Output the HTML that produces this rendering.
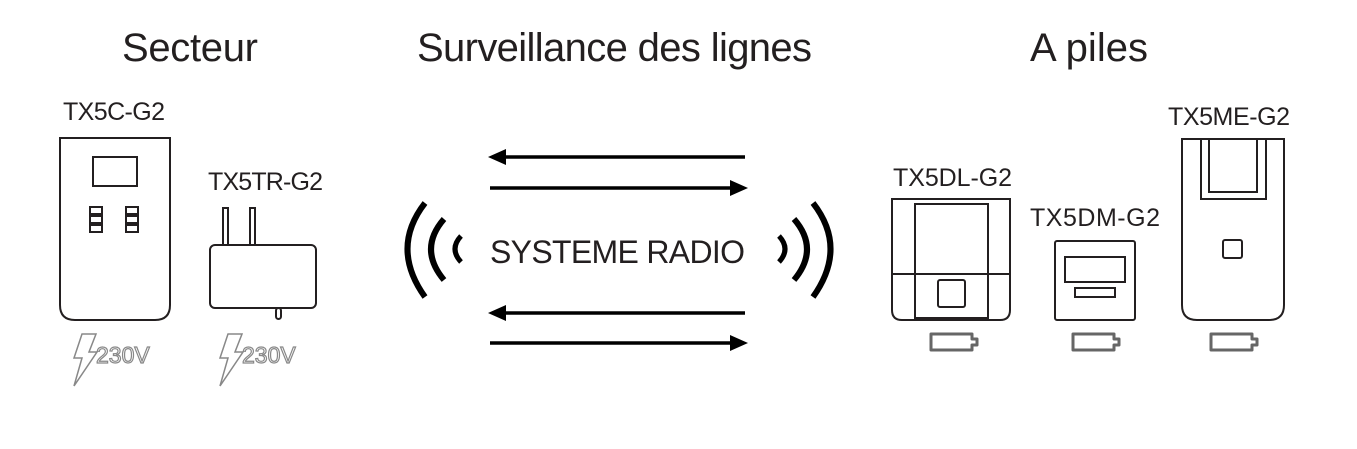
<!DOCTYPE html><html><head><style>body{margin:0;background:#fff}svg{display:block}text{font-family:"Liberation Sans",sans-serif;fill:#231f20}</style></head><body>
<svg width="1357" height="449" viewBox="0 0 1357 449" xmlns="http://www.w3.org/2000/svg">
<g font-size="40"><text x="122" y="61" textLength="136">Secteur</text><text x="417" y="61" textLength="395">Surveillance des lignes</text><text x="1030" y="61" textLength="118">A piles</text></g>
<g font-size="25"><text x="63" y="120" textLength="102">TX5C-G2</text><text x="208" y="190" textLength="115">TX5TR-G2</text><text x="893" y="186" textLength="119">TX5DL-G2</text><text x="1030" y="226" textLength="130">TX5DM-G2</text><text x="1168" y="125" textLength="122">TX5ME-G2</text></g>
<g fill="none" stroke="#231f20" stroke-width="2">
<path d="M60 138H170V305Q170 320 155 320H75Q60 320 60 305Z"/>
<rect x="93" y="157" width="44" height="29"/>
<rect x="90" y="207" width="12" height="7"/><rect x="90" y="216" width="12" height="7"/><rect x="90" y="225" width="12" height="7"/>
<rect x="126" y="207" width="12" height="7"/><rect x="126" y="216" width="12" height="7"/><rect x="126" y="225" width="12" height="7"/>
<rect x="210" y="245" width="106" height="63" rx="5"/>
<rect x="223" y="208" width="5" height="37"/><rect x="250" y="208" width="5" height="37"/>
<rect x="276" y="308" width="5" height="11" rx="2.5"/>
<path d="M892 199H1010V310Q1010 320 1000 320H902Q892 320 892 310Z"/>
<rect x="915" y="204" width="73" height="114"/><path d="M892 274H1010"/>
<rect x="938" y="280" width="27" height="27" rx="2"/>
<rect x="1055" y="241" width="80" height="79" rx="2"/>
<rect x="1065" y="257" width="60" height="25"/><rect x="1075" y="288" width="40" height="9"/>
<path d="M1182 139H1284V305Q1284 320 1269 320H1197Q1182 320 1182 305Z"/>
<path d="M1201 139V199H1266V139M1209 139V192H1257V139"/>
<rect x="1223" y="240" width="19" height="18" rx="2"/>
</g>
<g fill="none" stroke="#666" stroke-width="3">
<path d="M931 334H972V339H977V345H972V350H931Z" stroke-linejoin="round"/>
<path d="M1073 334H1114V339H1119V345H1114V350H1073Z" stroke-linejoin="round"/>
<path d="M1211 334H1252V339H1257V345H1252V350H1211Z" stroke-linejoin="round"/>
</g>
<g stroke="#888" stroke-width="1.5" fill="none">
<path d="M82 334H96L89 352H97L74 386L82 358H74Z"/><path d="M228 334H242L235 352H243L220 386L228 358H220Z"/>
</g>
<g font-size="23" fill="#fff" stroke="#888" stroke-width="1.2"><text x="96" y="363" style="fill:#fff">230V</text><text x="242" y="363" style="fill:#fff">230V</text></g>
<g stroke="#000" stroke-width="3.5"><path d="M500 157H745M490 188H735M500 313H745M490 343H735"/></g>
<g fill="#000"><path d="M488 157L506 149V165Z"/><path d="M748 188L730 180V196Z"/><path d="M488 313L506 305V321Z"/><path d="M748 343L730 335V351Z"/></g>
<g fill="none" stroke="#000" stroke-linecap="butt">
<path d="M425 203Q390 248 425 297" stroke-width="6"/><path d="M444 219Q418 249 444 280" stroke-width="6"/><path d="M461 236Q449 249 461 262" stroke-width="5"/>
<path d="M813 203Q848 248 813 297" stroke-width="6"/><path d="M794 219Q820 249 794 280" stroke-width="6"/><path d="M779 236Q791 249 779 262" stroke-width="5"/>
</g>
<text x="490" y="263" font-size="32" textLength="255">SYSTEME RADIO</text>
</svg></body></html>
